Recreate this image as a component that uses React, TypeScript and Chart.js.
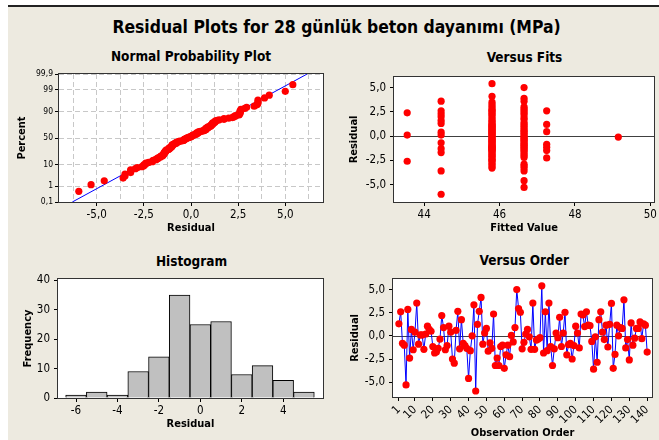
import React, { useEffect, useRef } from "react";
import { Chart, registerables } from "chart.js";

Chart.register(...registerables);

const FONT = "'DejaVu Sans Condensed', 'DejaVu Sans', sans-serif";
const BEIGE = "rgb(237,234,224)";
const RED = "#ff0000";
const BLUE = "#0000ff";
const FRAME = "#333333";

// Residuals in observation order (1..140)
const residuals: number[] = [
  1.3, 2.6, -0.8, -1.0, -5.3, 2.85, -2.4, 0.7, -1.5, 0.4,
  3.55, -0.9, 0.1, 0.1, -1.45, 0.2, 1.05, 0.7, 0.5, -1.15,
  -1.85, -1.75, -1.35, -0.35, 2.2, 0.9, -1.5, -1.05, 1.05, 0.4,
  -2.5, -2.95, 0.6, 2.65, -1.4, 1.75, -0.8, -1.05, -1.35, -4.6,
  -1.6, 0.0, 3.35, -5.95, 1.25, 2.65, 4.15, -0.9, 0.3, 0.8,
  -1.65, -0.75, -1.35, 2.35, -3.2, -2.4, -3.2, -1.15, -1.0, -3.5,
  -2.05, -1.0, -2.25, 0.05, -0.65, 0.9, 5.0, 2.95, 2.55, -1.4,
  -0.7, 0.2, 0.7, -0.1, -1.45, 3.55, -1.45, -0.45, -0.35, -0.2,
  5.4, -1.85, 2.6, -1.6, 3.55, -1.15, -3.2, -1.4, 0.3, -0.2,
  2.0, -1.15, 0.3, 2.55, -2.05, -0.95, -0.8, -2.5, -1.05, 1.05,
  0.3, -1.3, 2.35, 2.25, 1.0, 2.6, 1.15, 1.1, -0.6, -3.6,
  -0.1, -2.85, 1.75, 2.6, 0.4, -0.4, 1.15, -1.2, 1.25, 3.5,
  -3.5, -2.0, 1.15, 0.0, 0.9, 0.8, 3.9, -1.3, -0.4, -2.6,
  1.4, -1.0, -0.25, 0.8, 0.8, 1.5, -0.3, 1.3, 1.15, -1.75,
];

// Normal probability plot
const nppPercents = [0.1, 1, 10, 50, 90, 99, 99.9];
const nppGridX = [-6.25, -5, -3.75, -2.5, -1.25, 0, 1.25, 2.5, 3.75, 5, 6.25];
const nppLabelX = [-5, -2.5, 0, 2.5, 5];

// Versus fits: residuals grouped by fitted value
const fitLevels = [43.55, 44.45, 45.8, 46.65, 47.25, 49.15];
const fitRes4355 = [2.4, 0.1, -2.6];
const fitRes4445 = [3.6, 2.6, 2.3, 2.0, 1.6, 1.3, 0.4, 0.1, -0.7, -1.3, -1.7, -3.6, -6.0];
const fitRes4580 = [
  5.4, 4.1, 3.5, 3.3, 3.1, 2.9, 2.7, 2.6, 2.5, 2.3, 2.2, 2.0, 1.8, 1.6, 1.5, 1.3, 1.2, 1.1, 1.0, 0.9,
  0.8, 0.7, 0.6, 0.5, 0.4, 0.3, 0.2, 0.1, 0.0, -0.1, -0.2, -0.35, -0.4, -0.5, -0.6, -0.7, -0.8, -0.9,
  -1.0, -1.05, -1.15, -1.2, -1.3, -1.35, -1.4, -1.5, -1.6, -1.75, -1.85, -2.0, -2.1, -2.25, -2.4, -2.5,
  -2.6, -2.85, -2.95, -3.2, -3.3,
];
const fitRes4665 = [
  5.0, 3.9, 3.6, 3.0, 2.8, 2.6, 2.4, 2.2, 1.9, 1.7, 1.4, 1.2, 1.0, 0.8, 0.6, 0.45, 0.3, 0.1, -0.05,
  -0.2, -0.3, -0.45, -0.6, -0.75, -0.9, -1.0, -1.15, -1.3, -1.45, -1.6, -1.8, -2.0, -2.2, -2.9, -3.1,
  -3.3, -3.6, -4.6, -5.3,
];
const fitRes4725 = [2.6, 1.2, 0.45, -0.85, -1.15, -1.5, -2.25];
const fitRes4915 = [-0.1];
const fitGroups = [fitRes4355, fitRes4445, fitRes4580, fitRes4665, fitRes4725, fitRes4915];
const fitsTicksX = [44, 46, 48, 50];
const residTicks = [-5, -2.5, 0, 2.5, 5];

// Histogram
const histBins = [-6, -5, -4, -3, -2, -1, 0, 1, 2, 3, 4, 5];
const histCounts = [1, 2, 1, 9, 14, 35, 25, 26, 8, 11, 6, 2];
const histTicksX = [-6, -4, -2, 0, 2, 4];
const histTicksY = [0, 10, 20, 30, 40];

// Versus order
const orderTicks = [1, 10, 20, 30, 40, 50, 60, 70, 80, 90, 100, 110, 120, 130, 140];

function normInv(p: number): number {
  const a = [-3.969683028665376e1, 2.209460984245205e2, -2.759285104469687e2, 1.38357751867269e2, -3.066479806614716e1, 2.506628277459239];
  const b = [-5.447609879822406e1, 1.615858368580409e2, -1.556989798598866e2, 6.680131188771972e1, -1.328068155288572e1];
  const c = [-7.784894002430293e-3, -3.223964580411365e-1, -2.400758277161838, -2.549732539343734, 4.374664141464968, 2.938163982698783];
  const d = [7.784695709041462e-3, 3.224671290700398e-1, 2.445134137142996, 3.754408661907416];
  const plow = 0.02425;
  if (p < plow) {
    const q = Math.sqrt(-2 * Math.log(p));
    return (((((c[0] * q + c[1]) * q + c[2]) * q + c[3]) * q + c[4]) * q + c[5]) / ((((d[0] * q + d[1]) * q + d[2]) * q + d[3]) * q + 1);
  }
  if (p <= 1 - plow) {
    const q = p - 0.5;
    const r = q * q;
    return ((((((a[0] * r + a[1]) * r + a[2]) * r + a[3]) * r + a[4]) * r + a[5]) * q) / (((((b[0] * r + b[1]) * r + b[2]) * r + b[3]) * r + b[4]) * r + 1);
  }
  return -normInv(1 - p);
}

const comma1 = (v: number) => v.toFixed(1).replace(".", ",");
const pctLabel = (p: number) => String(p).replace(".", ",");

const tickFont = (size = 11.5) => ({ family: FONT, size });
const titleFont = { family: FONT, size: 11, weight: "bold" as const };

function makeAxis(o: {
  vertical: boolean;
  min: number;
  max: number;
  ticks: number[];
  label: (v: number, i: number) => string;
  marked?: (v: number) => boolean;
  size: number;
  title: string;
  titlePad: number;
  gridLines?: boolean;
  fontSize?: number;
  rotation?: number;
  tickPad?: number;
}) {
  return {
    type: "linear",
    position: o.vertical ? "left" : "bottom",
    min: o.min,
    max: o.max,
    offset: false,
    afterBuildTicks: (s: any) => {
      s.ticks = o.ticks.map((v) => ({ value: v }));
    },
    afterFit: (s: any) => {
      if (o.vertical) s.width = o.size;
      else s.height = o.size;
    },
    ticks: {
      autoSkip: false,
      maxRotation: o.rotation ?? 0,
      minRotation: o.rotation ?? 0,
      padding: o.tickPad ?? 2,
      color: "#000",
      font: tickFont(o.fontSize),
      callback: (v: any, i: number) => o.label(Number(v), i),
    },
    grid: {
      offset: false,
      display: true,
      drawOnChartArea: !!o.gridLines,
      color: "#c8c8c8",
      lineWidth: 1,
      drawTicks: true,
      tickLength: 4,
      tickWidth: 1,
      tickColor: (c: any) => (!o.marked || (c.tick && o.marked(c.tick.value)) ? "#000" : "rgba(0,0,0,0)"),
    },
    border: { display: false, dash: o.gridLines ? [5, 3] : [] },
    title: {
      display: true,
      text: o.title,
      color: "#000",
      font: titleFont,
      padding: o.vertical ? { top: o.titlePad, bottom: 0 } : { top: 0, bottom: o.titlePad },
    },
  };
}

const decoPlugin = {
  id: "deco",
  beforeDraw(chart: any) {
    const { ctx, chartArea: a } = chart;
    ctx.save();
    ctx.fillStyle = "#ffffff";
    ctx.fillRect(a.left, a.top, a.right - a.left, a.bottom - a.top);
    ctx.restore();
  },
  beforeDatasetsDraw(chart: any, _args: any, opts: any) {
    if (!opts || !opts.zeroLine) return;
    const { ctx, chartArea: a } = chart;
    const y = Math.round(chart.scales.y.getPixelForValue(0)) + 0.5;
    ctx.save();
    ctx.strokeStyle = "#404040";
    ctx.lineWidth = 1;
    ctx.beginPath();
    ctx.moveTo(a.left, y);
    ctx.lineTo(a.right, y);
    ctx.stroke();
    ctx.restore();
  },
  afterDraw(chart: any) {
    const { ctx, chartArea: a } = chart;
    ctx.save();
    ctx.strokeStyle = FRAME;
    ctx.lineWidth = 1;
    ctx.strokeRect(Math.round(a.left) - 0.5, Math.round(a.top) - 0.5, Math.round(a.right - a.left) + 1, Math.round(a.bottom - a.top) + 1);
    ctx.restore();
  },
};

const baseOptions = (padding: any, zeroLine = false) => ({
  animation: false,
  responsive: false,
  maintainAspectRatio: false,
  events: [],
  layout: { padding },
  plugins: {
    legend: { display: false },
    tooltip: { enabled: false },
    title: { display: false },
    deco: { zeroLine },
  },
});

function buildConfigs() {
  // Normal probability plot
  const sorted = [...residuals].sort((p, q) => p - q);
  const n = sorted.length;
  const nppPoints = sorted.map((r, i) => ({ x: r, y: normInv((i + 1 - 0.3) / (n + 0.4)) }));
  const mean = residuals.reduce((s, v) => s + v, 0) / n;
  const sd = Math.sqrt(residuals.reduce((s, v) => s + (v - mean) ** 2, 0) / (n - 1));
  const zLo = normInv(nppPercents[0] / 100);
  const zHi = normInv(nppPercents[nppPercents.length - 1] / 100);
  const nppLine = [
    { x: mean + zLo * sd, y: zLo },
    { x: mean + zHi * sd, y: zHi },
  ];

  const npp: any = {
    type: "scatter",
    data: {
      datasets: [
        { data: nppPoints, pointRadius: 3.6, pointBackgroundColor: RED, pointBorderWidth: 0, showLine: false },
        { data: nppLine, showLine: true, borderColor: BLUE, borderWidth: 1, pointRadius: 0, fill: false },
      ],
    },
    options: {
      ...baseOptions({ left: 0, top: 8, right: 7, bottom: 0 }),
      scales: {
        x: makeAxis({
          vertical: false, min: -7, max: 7, ticks: nppGridX, gridLines: true,
          label: (v) => (nppLabelX.includes(v) ? comma1(v) : ""),
          marked: (v) => nppLabelX.includes(v),
          size: 34, title: "Residual", titlePad: 1.4,
        }),
        y: makeAxis({
          vertical: true, min: zLo, max: zHi, ticks: nppPercents.map((p) => normInv(p / 100)), gridLines: true,
          label: (_v, i) => pctLabel(nppPercents[i]),
          size: 51, title: "Percent", titlePad: 7.9, fontSize: 8.5, tickPad: 2,
        }),
      },
    },
    plugins: [decoPlugin],
  };

  const fitsPoints = fitGroups.flatMap((g, k) => g.map((r) => ({ x: fitLevels[k], y: r })));
  const fits: any = {
    type: "scatter",
    data: { datasets: [{ data: fitsPoints, pointRadius: 3.6, pointBackgroundColor: RED, pointBorderWidth: 0 }] },
    options: {
      ...baseOptions({ left: 0, top: 9, right: 4, bottom: 0 }, true),
      scales: {
        x: makeAxis({
          vertical: false, min: 43.2, max: 50.1, ticks: fitsTicksX,
          label: (v) => String(v), size: 34, title: "Fitted Value", titlePad: 1.4,
        }),
        y: makeAxis({
          vertical: true, min: -6.8, max: 6.1, ticks: residTicks,
          label: (v) => comma1(v), size: 64, title: "Residual", titlePad: 17.9, tickPad: 4,
        }),
      },
    },
    plugins: [decoPlugin],
  };

  const hist: any = {
    type: "bar",
    data: {
      datasets: [
        {
          data: histBins.map((b, i) => ({ x: b, y: histCounts[i] })),
          backgroundColor: "#c0c0c0",
          borderColor: "#000",
          borderWidth: 1,
          barPercentage: 1,
          categoryPercentage: 1,
        },
      ],
    },
    options: {
      ...baseOptions({ left: 0, top: 10, right: 7, bottom: 0 }),
      scales: {
        x: makeAxis({
          vertical: false, min: -6.87, max: 5.92, ticks: histTicksX,
          label: (v) => String(v), size: 42, title: "Residual", titlePad: 9.4,
        }),
        y: makeAxis({
          vertical: true, min: 0, max: 40.5, ticks: histTicksY,
          label: (v) => String(v), size: 50, title: "Frequency", titlePad: 13.4, tickPad: 4,
        }),
      },
    },
    plugins: [decoPlugin],
  };

  const order: any = {
    type: "scatter",
    data: {
      datasets: [
        {
          data: residuals.map((r, i) => ({ x: i + 1, y: r })),
          showLine: true,
          borderColor: BLUE,
          borderWidth: 1,
          pointRadius: 3.6,
          pointBackgroundColor: RED,
          pointBorderWidth: 0,
        },
      ],
    },
    options: {
      ...baseOptions({ left: 0, top: 9, right: 4, bottom: 0 }, true),
      scales: {
        x: makeAxis({
          vertical: false, min: -2.3, max: 142.8, ticks: orderTicks, rotation: 45,
          label: (v) => String(v), size: 43, title: "Observation Order", titlePad: 0.4,
        }),
        y: makeAxis({
          vertical: true, min: -6.6, max: 6.15, ticks: residTicks,
          label: (v) => comma1(v), size: 63, title: "Residual", titlePad: 18.1, tickPad: 4,
        }),
      },
    },
    plugins: [decoPlugin],
  };

  return [npp, fits, hist, order];
}

function Label(props: { text: string; cx: number; cy: number; size: number }) {
  const lh = Math.round(props.size * 1.3);
  return (
    <div
      style={{
        position: "absolute",
        left: props.cx - 300,
        width: 600,
        top: props.cy - lh / 2,
        height: lh,
        lineHeight: lh + "px",
        fontSize: props.size,
        fontWeight: "bold",
        fontFamily: FONT,
        textAlign: "center",
        whiteSpace: "nowrap",
        color: "#000",
      }}
    >
      {props.text}
    </div>
  );
}

const panels = [
  { left: 8, top: 66, width: 322, height: 170 },
  { left: 330, top: 66, width: 329, height: 170 },
  { left: 8, top: 268, width: 322, height: 172 },
  { left: 330, top: 268, width: 329, height: 172 },
];

export default function App() {
  const r0 = useRef<HTMLCanvasElement>(null);
  const r1 = useRef<HTMLCanvasElement>(null);
  const r2 = useRef<HTMLCanvasElement>(null);
  const r3 = useRef<HTMLCanvasElement>(null);
  const refs = [r0, r1, r2, r3];

  useEffect(() => {
    const cfgs = buildConfigs();
    const charts = refs.map((r, i) => new Chart(r.current as HTMLCanvasElement, cfgs[i]));
    return () => charts.forEach((c) => c.destroy());
  }, []);

  return (
    <div style={{ position: "absolute", left: 0, top: 0, width: 659, height: 440, background: "#fff", overflow: "hidden" }}>
      <div style={{ position: "absolute", left: 8, top: 5, width: 651, height: 2, background: "#222" }} />
      <div style={{ position: "absolute", left: 8, top: 7, width: 651, height: 433, background: BEIGE }} />
      <Label text="Residual Plots for 28 günlük beton dayanımı (MPa)" cx={336.5} cy={27} size={17.4} />
      <Label text="Normal Probability Plot" cx={191} cy={56} size={13.5} />
      <Label text="Versus Fits" cx={524.5} cy={57} size={13.5} />
      <Label text="Histogram" cx={191.5} cy={260.5} size={13.5} />
      <Label text="Versus Order" cx={524.3} cy={260} size={13.5} />
      {panels.map((p, i) => (
        <canvas
          key={i}
          ref={refs[i]}
          width={p.width}
          height={p.height}
          style={{ position: "absolute", left: p.left, top: p.top, width: p.width, height: p.height }}
        />
      ))}
    </div>
  );
}
